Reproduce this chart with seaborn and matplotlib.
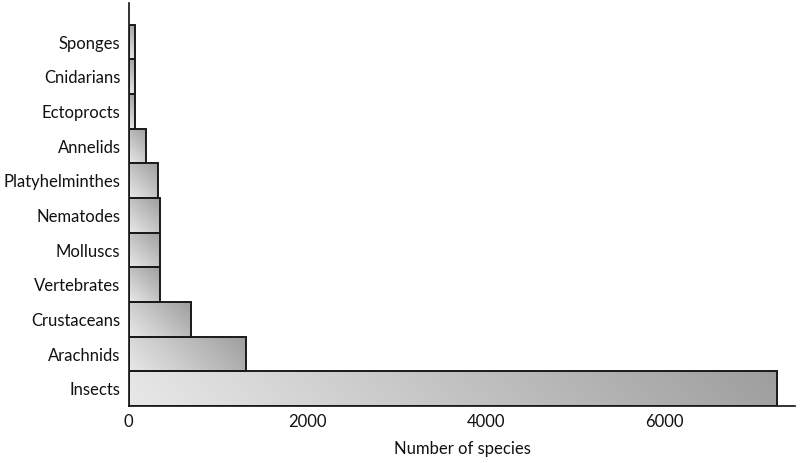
import numpy as np
import pandas as pd
import matplotlib
matplotlib.use("Agg")
import matplotlib.pyplot as plt
import seaborn as sns
from matplotlib.colors import LinearSegmentedColormap

categories = ["Sponges", "Cnidarians", "Ectoprocts", "Annelids", "Platyhelminthes",
              "Nematodes", "Molluscs", "Vertebrates", "Crustaceans", "Arachnids", "Insects"]
species = [75, 75, 75, 190, 325, 355, 355, 355, 700, 1310, 7265]
xticks = [0, 2000, 4000, 6000]

df = pd.DataFrame({"group": categories, "n": species})

sns.set_style("white")
plt.rcParams["font.family"] = ["Lato", "DejaVu Sans"]

fig = plt.figure(figsize=(8.0, 4.63), dpi=100)
ax = fig.add_axes([0.161, 0.123, 0.833, 0.8705])

sns.barplot(data=df, x="n", y="group", orient="h", width=1.0, color="#c0c0c0",
            edgecolor="#1a1a1a", linewidth=1.4, ax=ax)

ax.set_xlim(0, 7470)
ax.set_ylim(10.5, -1.125)

cmap = LinearSegmentedColormap.from_list("g", ["#e8e8e8", "#9e9e9e"])
px_per_x = ax.get_window_extent(fig.canvas.get_renderer()).width / 7470.0
px_per_y = ax.get_window_extent(fig.canvas.get_renderer()).height / 11.625

for p in list(ax.patches):
    x0, y0 = p.get_x(), p.get_y()
    w, h = p.get_width(), p.get_height()
    W = abs(w) * px_per_x
    H = abs(h) * px_per_y
    nx, ny = 128, 32
    u = np.linspace(0, 1, nx)[None, :]
    v = np.linspace(0, 1, ny)[:, None]
    grad = (u * W + v * H) / (W + H)
    p.set_facecolor("none")
    p.set_zorder(3)
    im = ax.imshow(grad, cmap=cmap, vmin=0, vmax=1, aspect="auto",
                   extent=[x0, x0 + w, y0 + h, y0], origin="lower",
                   interpolation="bilinear", zorder=2)
    im.set_clip_path(p)

ax.set_xlim(0, 7470)
ax.set_ylim(10.5, -1.125)
ax.set_xticks(xticks)
ax.set_xticklabels([str(t) for t in xticks], fontsize=12, color="#111111")
ax.tick_params(axis="x", direction="in", length=5, width=1, color="#111111", pad=6)
ax.tick_params(axis="y", length=0, pad=6, labelsize=12, labelcolor="#111111")
ax.set_ylabel("")
ax.set_xlabel("Number of species", fontsize=12, color="#111111", labelpad=8)
for s in ["top", "right"]:
    ax.spines[s].set_visible(False)
for s in ["left", "bottom"]:
    ax.spines[s].set_color("#111111")
    ax.spines[s].set_linewidth(1.2)

fig.savefig("out.png", dpi=100)
